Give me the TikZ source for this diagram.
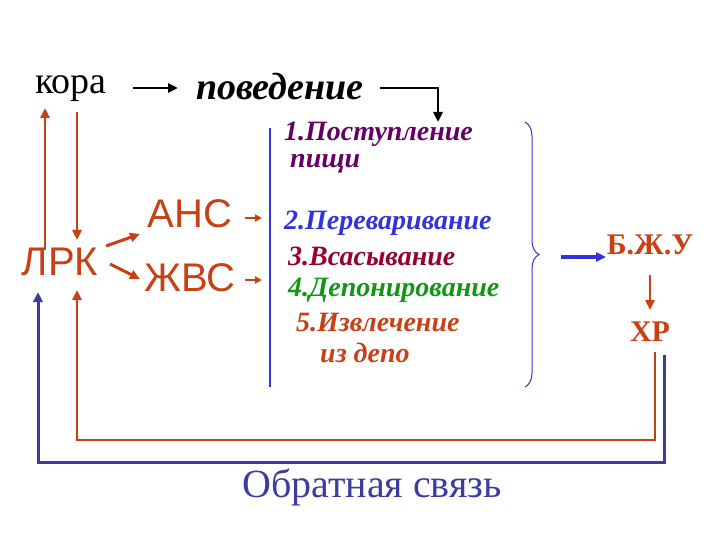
\documentclass[tikz,border=0pt]{standalone}
\usepackage{fontspec}
\setmainfont{Liberation Serif}
\newfontfamily\sansf{Liberation Sans}
\usetikzlibrary{arrows.meta,decorations.pathreplacing}
\definecolor{org}{RGB}{200,65,20}
\definecolor{purp}{RGB}{100,0,100}
\definecolor{blu}{RGB}{50,50,220}
\definecolor{crim}{RGB}{150,0,50}
\definecolor{grn}{RGB}{20,150,20}
\definecolor{fb}{RGB}{60,60,160}
\begin{document}
\begin{tikzpicture}[x=1pt,y=-1pt,
 arr/.style={-{Triangle[length=10pt,width=9pt]},line width=2.6pt},
 it/.style={font=\fontsize{28}{30}\selectfont\bfseries\itshape,anchor=west,inner sep=0}]
\useasboundingbox (0,0) rectangle (720,540);
\node (kora) at (71,89) {\fontsize{38}{40}\selectfont кора};
\node (pov) at (280,87) {\fontsize{38}{40}\selectfont\bfseries\itshape поведение};
\draw[arr] (133,88) -- (178,88);
\coordinate (c1) at (438,122);
\draw[arr] (380,88) -| (c1);
\node[it,purp] (p1) at (284,134) {1.Поступление};
\node[it,purp] (p1b) at (290,164) {пищи};
\node[it,blu] (p2) at (284,223) {2.Переваривание};
\node[it,crim] (p3) at (288,256) {3.Всасывание};
\node[it,grn] (p4) at (288,290) {4.Депонирование};
\node[it,org] (p5) at (296,323) {5.Извлечение};
\node[it,org] (p5b) at (320,353) {из депо};
\draw[blu,line width=2.5pt] (270,128) -- (270,387);
\node[org] (ans) at (190,214) {\sansf\fontsize{40}{42}\selectfont АНС};
\node[org] (zvs) at (190,278) {\sansf\fontsize{40}{42}\selectfont ЖВС};
\node[org] (lrk) at (60,262) {\sansf\fontsize{40}{42}\selectfont ЛРК};
\draw[arr,org,line width=2.4pt,-{Triangle[length=7pt,width=7pt]}] (245,218) -- (262,218);
\draw[arr,org,line width=2.4pt,-{Triangle[length=7pt,width=7pt]}] (245,280) -- (262,280);
\draw[arr,org,line width=3pt] (106,246) -- (140,234);
\draw[arr,org,line width=3pt] (110,264) -- (140,279);
\draw[blu,line width=1pt,decorate,decoration={brace,amplitude=14pt}] (525,122) -- (525,387);
\node[org] (bju) at (650,245) {\fontsize{30}{32}\selectfont\bfseries Б.Ж.У};
\node[org] (xr) at (650,332) {\fontsize{30}{32}\selectfont\bfseries ХР};
\draw[arr,blu,line width=4pt] (561,257) -- (606,257);
\draw[arr,org] (650,275) -- (650,310);
\draw[arr,org] (45,250) -- (45,108);
\draw[arr,org] (77,112) -- (77,240);
\draw[arr,org] (655,352) |- (77,440) -- (77,290);
\draw[arr,fb,line width=3pt] (664,355) |- (38,462) -- (38,292);
\node[fb] (obr) at (372,487) {\fontsize{40}{42}\selectfont Обратная связь};
\end{tikzpicture}
\end{document}
